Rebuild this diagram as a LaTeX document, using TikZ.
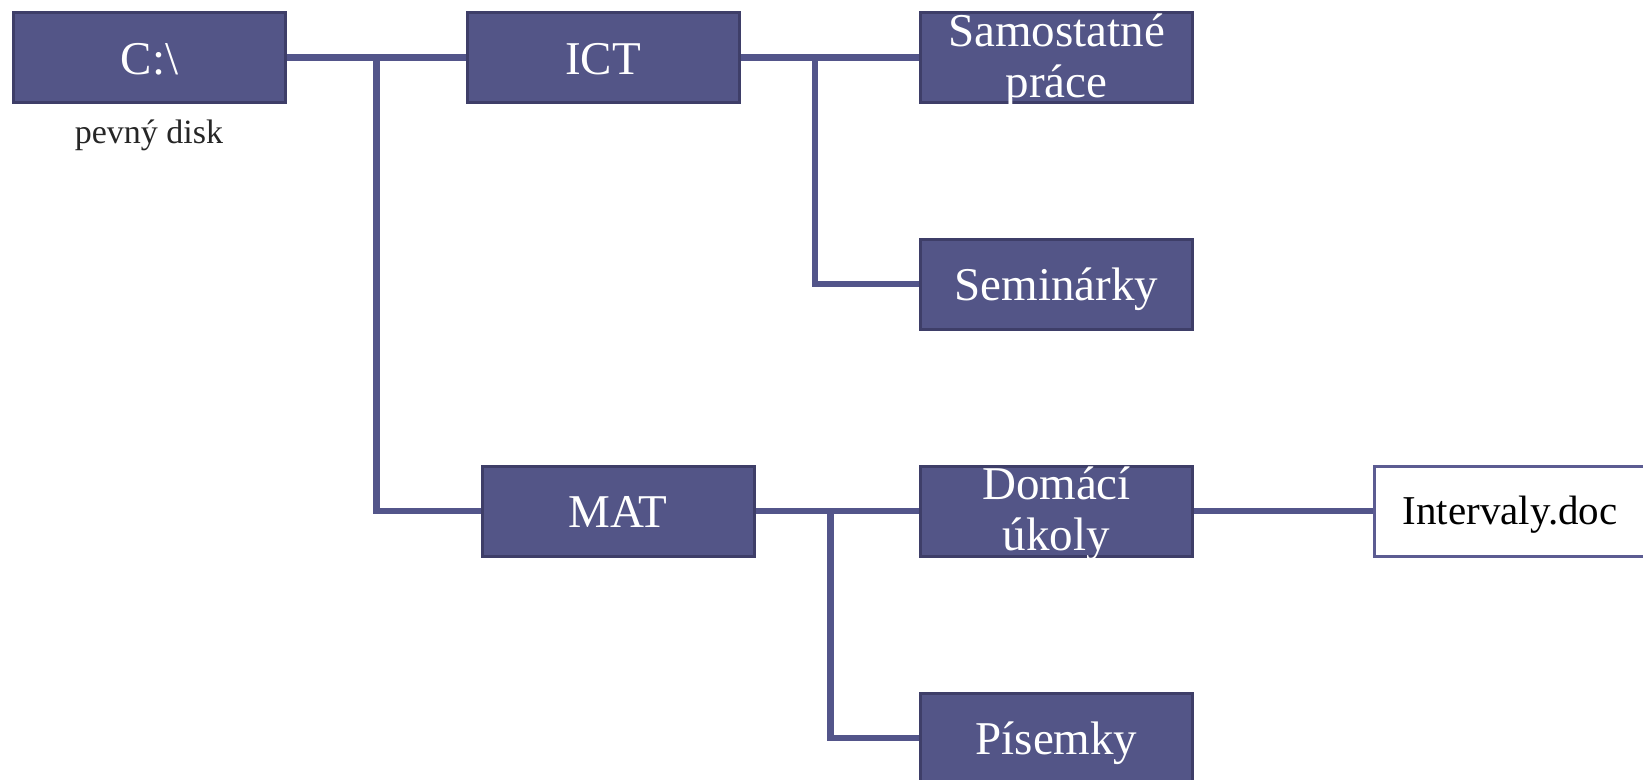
\documentclass[tikz,border=0pt]{standalone}
\usepackage{fontspec}
\setmainfont{Liberation Serif}
\usetikzlibrary{calc}
\definecolor{boxfill}{HTML}{535587}
\definecolor{boxline}{HTML}{3E3E68}
\definecolor{connline}{HTML}{53558A}
\definecolor{docline}{HTML}{5C5C92}
\newcommand\twolines[2]{\raisebox{28pt}[0pt][0pt]{\begin{tabular}[t]{@{}c@{}}#1\\[-1pt]#2\end{tabular}}}
\begin{document}
\begin{tikzpicture}[x=1pt,y=1pt,
  folder/.style={draw=boxline, line width=3pt, fill=boxfill, text=white,
    minimum width=272pt, minimum height=90pt, inner sep=0pt,
    font=\fontsize{47}{52}\selectfont},
  oneline/.style={folder, text height=33pt, text depth=0pt},
  docbox/.style={draw=docline, line width=3pt, fill=white, text=black,
    minimum width=272pt, minimum height=90pt, inner sep=0pt,
    text height=27pt, text depth=0pt,
    font=\fontsize{41}{46}\selectfont},
  conn/.style={draw=connline, line width=6.5pt}]
\useasboundingbox (0,0) rectangle (1643,-779);
\node[oneline] (C) at (149.5,-57.5) {C:\textbackslash};
\node[text=black!85, font=\fontsize{34}{40}\selectfont] (disk) at (149,-135) {pevný disk};
\node[oneline] (ICT) at (603,-57.5) {ICT};
\node[oneline] (Sam) at (1056.5,-57.5) {\twolines{Samostatné}{práce}};
\node[oneline] (Sem) at (1056.5,-284) {Seminárky};
\node[oneline] (MAT) at (618,-511) {MAT};
\node[oneline] (Dom) at (1056.5,-511) {\twolines{Domácí}{úkoly}};
\node[oneline] (Pis) at (1056.5,-738) {Písemky};
\node[docbox] (Int) at (1510,-511) {Intervaly.doc};
\coordinate (j1) at ($(C.east)!0.5!(ICT.west)$);
\coordinate (j2) at (815,-57.5);
\coordinate (j3) at (830.7,-511);
\draw[conn] (C.east) -- (ICT.west);
\draw[conn] (j1) |- (MAT.west);
\draw[conn] (ICT.east) -- (Sam.west);
\draw[conn] (j2) |- (Sem.west);
\draw[conn] (MAT.east) -- (Dom.west);
\draw[conn] (j3) |- (Pis.west);
\draw[conn] (Dom.east) -- (Int.west);
\end{tikzpicture}
\end{document}
